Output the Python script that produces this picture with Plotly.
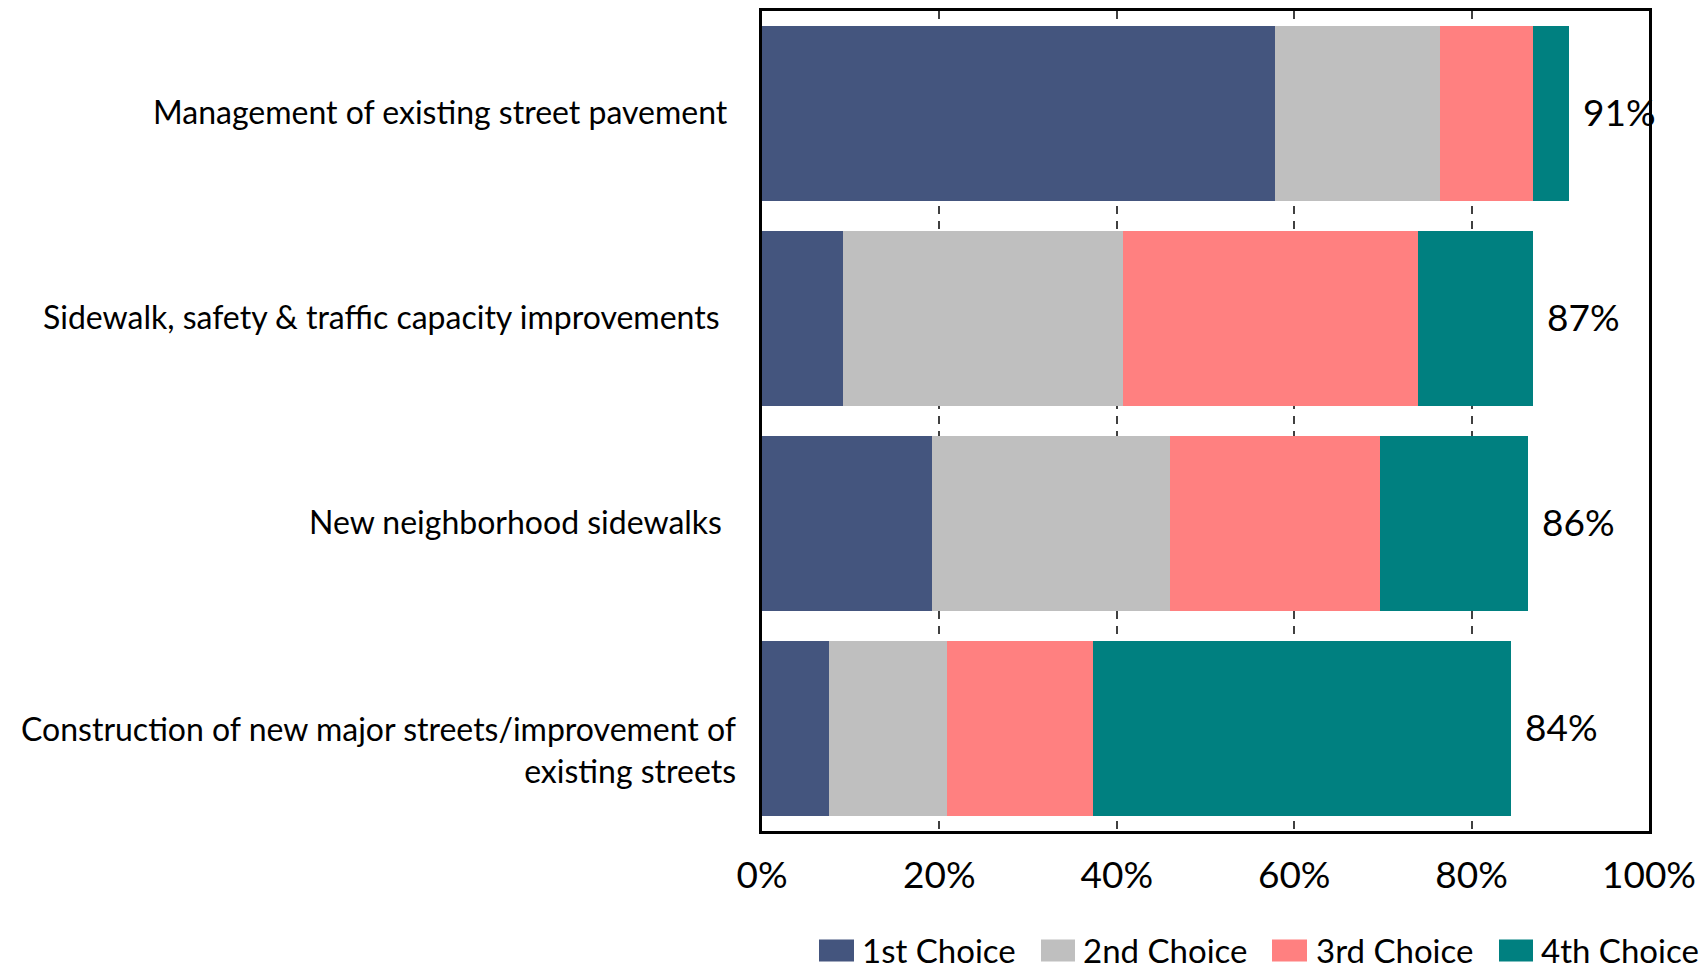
import plotly.graph_objects as go

# Street programme priorities, share of respondents ranking each item (%)
categories = [
    "Management of existing street pavement",
    "Sidewalk, safety & traffic capacity improvements",
    "New neighborhood sidewalks",
    "Construction of new major streets/improvement of<br>existing streets",
]
series_names = ["1st Choice", "2nd Choice", "3rd Choice", "4th Choice"]
first_choice = [57.8, 9.1, 19.2, 7.5]
second_choice = [18.6, 31.6, 26.8, 13.4]
third_choice = [10.5, 33.3, 23.7, 16.4]
fourth_choice = [4.1, 12.9, 16.7, 47.1]
x_ticks = [0, 20, 40, 60, 80, 100]

series_values = [first_choice, second_choice, third_choice, fourth_choice]
colors = ["#44557E", "#BFBFBF", "#FF8080", "#008080"]
FONT = "Lato, Carlito, Calibri, sans-serif"

W, H = 1708, 971
L, R, T, B = 762, 59, 8, 140
plot_w = W - L - R
plot_h = H - T - B

fig = go.Figure()
for name, vals, col in zip(series_names, series_values, colors):
    fig.add_trace(go.Bar(
        y=categories, x=vals, name=name, orientation="h",
        marker=dict(color=col, line=dict(width=0)),
        showlegend=False, hoverinfo="x+name",
    ))

# total labels at the end of each stacked bar
totals = [sum(v) for v in zip(*series_values)]
annotations = []
for cat, tot in zip(categories, totals):
    annotations.append(dict(
        x=tot, y=cat, xref="x", yref="y", text=f"{round(tot)}%",
        showarrow=False, xanchor="left", yanchor="middle", xshift=12, yshift=2,
        font=dict(family=FONT, size=37, color="black"),
    ))

# category labels, right-aligned to the left of the plot frame
label_gap = [32, 40, 38, 24]
label_yshift = [2, 2, 2, -21]
for cat, gap, ys in zip(categories, label_gap, label_yshift):
    annotations.append(dict(
        x=0, y=cat, xref="paper", yref="y", text=cat, align="right",
        showarrow=False, xanchor="right", yanchor="middle",
        xshift=-gap, yshift=ys,
        font=dict(family=FONT, size=32, color="black"),
    ))

# legend row beneath the axis
def px_x(p):
    return (p - L) / plot_w

def px_y(p):
    return (H - B - p) / plot_h

legend_boxes = [(819, 854), (1041, 1075), (1272, 1307), (1499, 1533)]
legend_text_x = [860, 1081, 1314, 1539]
shapes = []
for (x0, x1), tx, name, col in zip(legend_boxes, legend_text_x, series_names, colors):
    shapes.append(dict(
        type="rect", xref="paper", yref="paper",
        x0=px_x(x0), x1=px_x(x1), y0=px_y(962), y1=px_y(940),
        fillcolor=col, line=dict(width=0),
    ))
    annotations.append(dict(
        x=px_x(tx), y=px_y(950), xref="paper", yref="paper", text=name,
        showarrow=False, xanchor="left", yanchor="middle",
        font=dict(family=FONT, size=33, color="black"),
    ))

fig.update_layout(
    width=W, height=H,
    margin=dict(l=L, r=R, t=T, b=B),
    barmode="stack", bargap=0.15,
    plot_bgcolor="white", paper_bgcolor="white",
    annotations=annotations, shapes=shapes,
    showlegend=False,
)
fig.update_xaxes(
    range=[0, 100], tickvals=x_ticks, ticktext=[f"{t}%" for t in x_ticks],
    showgrid=True, gridcolor="#404040", gridwidth=1.5, griddash="8px,7px",
    showline=True, linecolor="black", linewidth=3, mirror=True,
    ticks="", ticklabelstandoff=10, zeroline=False,
    tickfont=dict(family=FONT, size=37, color="black"),
)
fig.update_yaxes(
    categoryorder="array", categoryarray=categories,
    range=[3.5, -0.5], showticklabels=False, showgrid=False,
    showline=True, linecolor="black", linewidth=3, mirror=True,
    ticks="", zeroline=False,
)

fig.write_html("out.html")
